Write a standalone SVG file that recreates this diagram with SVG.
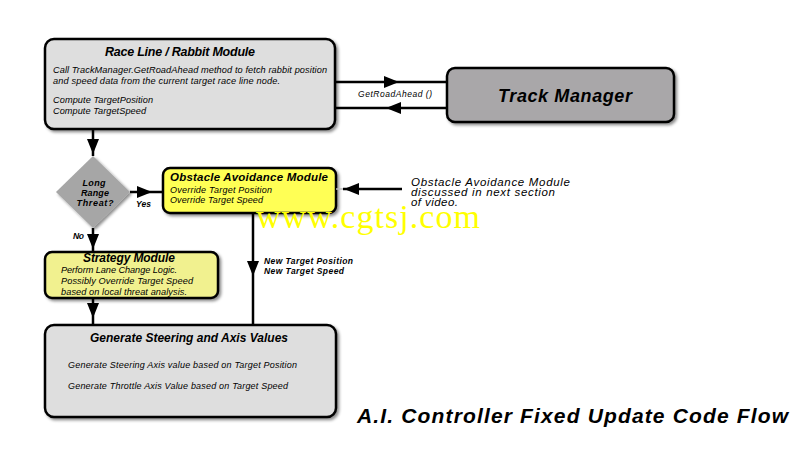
<svg xmlns="http://www.w3.org/2000/svg" width="800" height="450" viewBox="0 0 800 450">
<defs>
<filter id="sh" x="-10%" y="-10%" width="130%" height="130%">
<feDropShadow dx="2" dy="2" stdDeviation="1.5" flood-color="#000" flood-opacity="0.45"/>
</filter>
<marker id="ah" markerUnits="userSpaceOnUse" markerWidth="15" markerHeight="12" refX="15" refY="6" orient="auto">
<path d="M0,0 L15,6 L0,12 z" fill="#000"/>
</marker>
<style>
.box{stroke:#000;stroke-width:2.5;filter:url(#sh)}
.grey{fill:#dedede}
.yel{fill:#ffff55}
.pale{fill:#f1f18f}
.t{font-family:"Liberation Sans",Arial,sans-serif;font-style:italic;fill:#000}
.b{font-weight:bold}
.c{text-anchor:middle}
.ln{fill:none;stroke:#000;stroke-width:2.5;marker-mid:url(#ah)}
</style>
</defs>
<rect width="800" height="450" fill="#fff"/>

<g id="race-line">
<rect class="box grey" x="45" y="39" width="290" height="90" rx="9"/>
<text class="t b" x="105" y="56" font-size="12.5" textLength="150">Race Line / Rabbit Module</text>
<text class="t" x="53" y="73" font-size="9.2" textLength="274">Call TrackManager.GetRoadAhead method to fetch rabbit position</text>
<text class="t" x="53" y="84" font-size="9.2" textLength="227">and speed data from the current target race line node.</text>
<text class="t" x="53" y="103" font-size="9.2" textLength="100">Compute TargetPosition</text>
<text class="t" x="53" y="114" font-size="9.2" textLength="93">Compute TargetSpeed</text>
</g>

<g id="track-manager">
<rect class="box" x="447" y="68" width="227" height="54" rx="8" fill="#a9a7a9"/>
<text class="t b" x="498" y="102" font-size="18" textLength="134">Track Manager</text>
</g>

<g id="decision">
<polygon points="93,156 130,192 93,228 56,192" fill="#a6a6a6" filter="url(#sh)"/>
<text class="t b c" x="94" y="186" font-size="9" textLength="23">Long</text>
<text class="t b c" x="95" y="196" font-size="9" textLength="28">Range</text>
<text class="t b c" x="95" y="206" font-size="9" textLength="37">Threat?</text>
</g>

<g id="obstacle">
<rect class="box yel" x="163" y="168" width="173" height="45" rx="7"/>
<text class="t b" x="170" y="181" font-size="11.5" textLength="158">Obstacle Avoidance Module</text>
<text class="t" x="170" y="193" font-size="9" textLength="102">Override Target Position</text>
<text class="t" x="170" y="203" font-size="9" textLength="93">Override Target Speed</text>
</g>

<g id="strategy">
<rect class="box pale" x="45" y="252" width="173" height="46" rx="7"/>
<text class="t b" x="83" y="262" font-size="12" textLength="92">Strategy Module</text>
<text class="t" x="61" y="273" font-size="9.2" textLength="116">Perform Lane Change Logic.</text>
<text class="t" x="61" y="284" font-size="9.2" textLength="132">Possibly Override Target Speed</text>
<text class="t" x="61" y="295" font-size="9.2" textLength="126">based on local threat analysis.</text>
</g>

<g id="generate">
<rect class="box grey" x="45" y="325" width="291" height="92" rx="9"/>
<text class="t b" x="90" y="342" font-size="12" textLength="198">Generate Steering and Axis Values</text>
<text class="t" x="68" y="368" font-size="9" textLength="229">Generate Steering Axis value based on Target Position</text>
<text class="t" x="68" y="389" font-size="9" textLength="220">Generate Throttle Axis Value based on Target Speed</text>
</g>

<g id="connectors">
<path class="ln" d="M93,129 L93,154 L93,156"/>
<path class="ln" d="M130,192 L152,192 L163,192"/>
<path class="ln" d="M93,228 L93,249 L93,252"/>
<path class="ln" d="M93,298 L93,318 L93,325"/>
<path class="ln" d="M253,213 L253,276 L253,325"/>
<path class="ln" d="M335,82 L399,82 L447,82"/>
<path class="ln" d="M447,108 L386,108 L335,108"/>
<line x1="336" y1="189" x2="345" y2="189" stroke="#bbb" stroke-width="1.5"/>
<path class="ln" d="M402,189 L344,189 L343,189"/>
<text class="t" x="358" y="97" font-size="8.5" textLength="74">GetRoadAhead ()</text>
<text class="t b" x="136" y="207" font-size="8.5" textLength="15">Yes</text>
<text class="t b" x="73" y="239" font-size="8.5" textLength="11">No</text>
<text class="t b" x="264" y="264" font-size="8.5" textLength="89">New Target Position</text>
<text class="t b" x="264" y="274" font-size="8.5" textLength="80">New Target Speed</text>
</g>

<g id="annotation">
<text class="t" x="411" y="186" font-size="11.5" textLength="159">Obstacle Avoidance Module</text>
<text class="t" x="411" y="196" font-size="11.5" textLength="144">discussed in next section</text>
<text class="t" x="411" y="206" font-size="11.5" textLength="47">of video.</text>
</g>

<text x="256" y="228" font-family="Liberation Serif,serif" font-size="34" fill="#ffff00" textLength="224">www.cgtsj.com</text>

<text class="t b" x="357" y="423" font-size="21" textLength="431">A.I. Controller Fixed Update Code Flow</text>
</svg>
